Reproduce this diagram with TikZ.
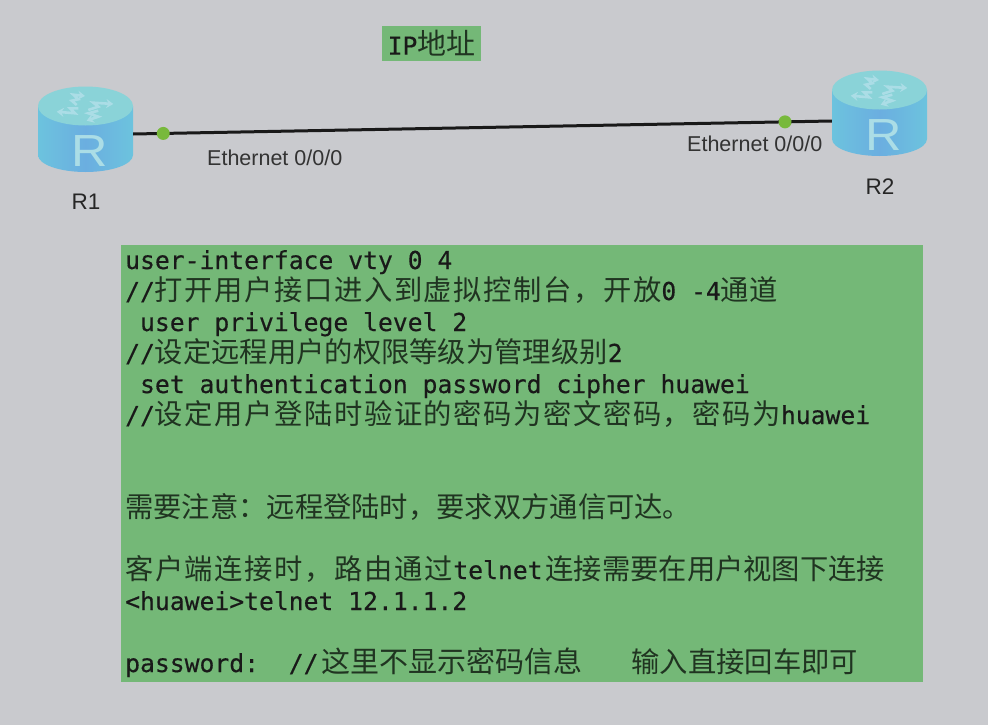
\documentclass[tikz,border=0pt]{standalone}
\usepackage{fontspec}
\setsansfont{Liberation Sans}
\setmonofont[FakeBold=0.4]{DejaVu Sans Mono}
\newfontfamily\cjkfont{Noto Sans CJK SC}
\newfontfamily\cjkwidefont[LetterSpace=5.6]{Noto Sans CJK SC}
\usetikzlibrary{arrows.meta, positioning}
\definecolor{PageGray}{HTML}{C9CACE}
\definecolor{NoteGreen}{HTML}{74B877}
\definecolor{PortGreen}{HTML}{78B93C}
\definecolor{RouterTop}{HTML}{8AD3D8}
\definecolor{RouterEdge}{HTML}{6CC3DE}
\definecolor{RouterMid}{HTML}{6BAEE0}
\definecolor{RouterMark}{HTML}{ABDDE6}
\colorlet{ZhInk}{black!72!NoteGreen}
\newcommand{\zh}[2][28.3]{{\fontsize{#1}{31}\cjkfont\color{ZhInk}#2}}
\newcommand{\zhwide}[1]{{\fontsize{28.3}{31}\cjkwidefont\color{ZhInk}#1}}
\tikzset{
  routerbox/.style={minimum width=95pt, minimum height=76pt, inner sep=0pt},
  routername/.style={font=\sffamily\fontsize{22.5}{24}\selectfont, text=black!85},
  portname/.style={font=\sffamily\fontsize{21.5}{24}\selectfont, text=black!80, inner sep=0pt},
  portdot/.style={circle, fill=PortGreen, minimum size=13pt, inner sep=0pt},
  link/.style={line width=3pt, black!90},
  notebox/.style={fill=NoteGreen, inner sep=0pt, text=black!90},
  flow/.style={RouterMark, line width=2.6pt, -{Stealth[length=7pt,width=9pt]}},
  pics/routerbody/.style={code={
    % side of the cylinder, then its lid
    \path[left color=RouterEdge, right color=RouterEdge, middle color=RouterMid]
      (-47.5,-28) -- (-47.5,21) arc[start angle=180, end angle=0, x radius=47.5, y radius=17]
      -- (47.5,-28) -- cycle;
    \fill[RouterTop] (0,-28) ellipse[x radius=47.5, y radius=19.5];
    \node[font=\sffamily\fontsize{45}{45}\selectfont, text=RouterMark, inner sep=0pt, transform shape, xscale=1.12] at (4.5,17) {R};
    % the four arrows on the lid
    \draw[flow] (-8.8,-29) -- (-13.8,-33.3) -- (-7.2,-34.7) -- (-12.2,-39.3) -- (-0.5,-38);
    \draw[flow] (2.8,-24) -- (12.8,-27.3) -- (7.8,-31.3) -- (27.8,-30);
    \draw[flow] (-7.2,-25.7) -- (-15.5,-25.7) -- (-10.5,-20.7) -- (-28.8,-22.3);
    \draw[flow] (12.8,-23.3) -- (2.8,-20.7) -- (12.8,-17.3) -- (1.2,-13.3);
  }}
}
\begin{document}
\begin{tikzpicture}[x=1pt, y=-1pt]
  \useasboundingbox[fill=PageGray] (0,0) rectangle (988,725);
  % title
  \node[notebox, minimum width=99pt, minimum height=35pt] (title) at (431.5,43.5)
    {\ttfamily\fontsize{24.7}{31}\selectfont\raisebox{2pt}{IP\zh[29]{地址}}};
  % routers
  \node[routerbox] (rOne) at (85.5,134) {};
  \node[routerbox] (rTwo) at (879.5,121) {};
  \pic at (rOne.center) {routerbody};
  \pic at ([yshift=3pt]rTwo.center) {routerbody};
  \node[routername] (rOneName) at (86,202) {R1};
  \node[routername] (rTwoName) at (880,187) {R2};
  % link with its two ports
  \draw[link] (rOne.east) -- (rTwo.west)
    node[portdot, pos=0.043] (portOne) {}
    node[portdot, pos=0.933] (portTwo) {};
  \node[portname, anchor=west] (portOneName) at (207,158) {Ethernet 0/0/0};
  \node[portname, anchor=west] (portTwoName) at (687,144) {Ethernet 0/0/0};
  % commands and notes
  \node[notebox, anchor=north west, text width=794pt, inner xsep=4pt, minimum height=437pt, align=left,
        font=\ttfamily\fontsize{24.7}{31}\selectfont] (notes) at (121,245) {%
    \lineskiplimit=-100pt \spaceskip=14.87pt\relax
    user-interface vty 0 4\\
    //\zhwide{打开用户接口进入到虚拟控制台，开放}0 -4\zh{通道}\\
    \ user privilege level 2\\
    //\zh{设定远程用户的权限等级为管理级别}2\\
    \ set authentication password cipher huawei\\
    //\zhwide{设定用户登陆时验证的密码为密文密码，密码为}huawei\\[62pt]
    \zh{需要注意：远程登陆时，要求双方通信可达。}\\[31pt]
    \zhwide{客户端连接时，路由通过}\hspace{1pt}telnet\hspace{3pt}\zh{连接需要在用户视图下连接}\\
    <huawei>telnet 12.1.1.2\\[31pt]
    password:\ \ //\hspace{3pt}\zh[29]{这里不显示密码信息}\hspace{49pt}\zh{输入直接回车即可}};
\end{tikzpicture}
\end{document}
